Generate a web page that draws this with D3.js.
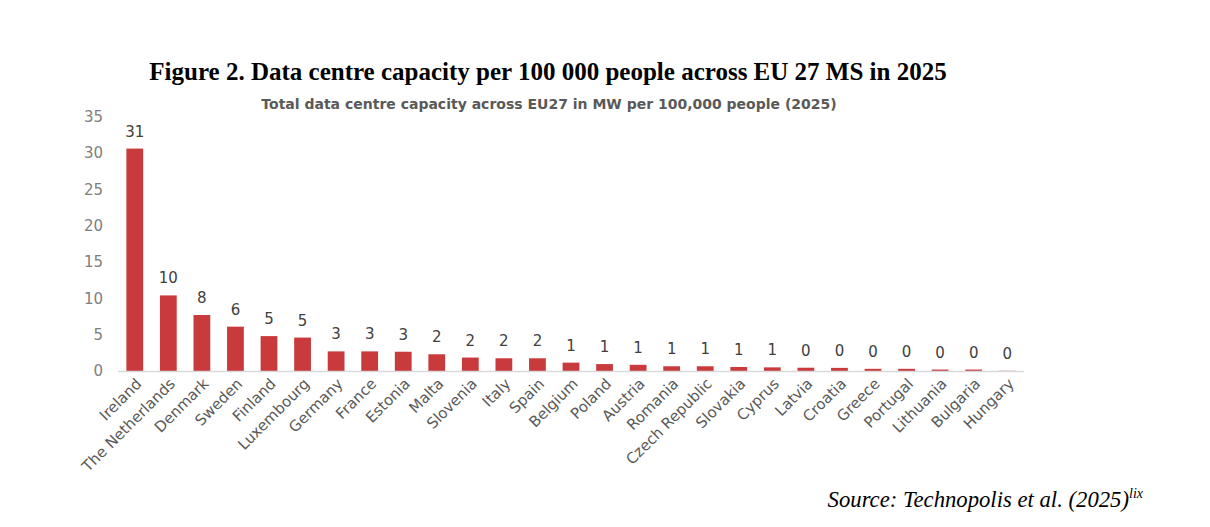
<!DOCTYPE html>
<html>
<head>
<meta charset="utf-8">
<script src="https://cdn.jsdelivr.net/npm/d3@7/dist/d3.min.js"></script>
<style>
  html, body { margin: 0; padding: 0; background: #fff; }
  svg { display: block; }
</style>
</head>
<body>
<svg id="chart" width="1210" height="527"></svg>
<script>
const countries = ["Ireland","The Netherlands","Denmark","Sweden","Finland","Luxembourg","Germany","France","Estonia","Malta","Slovenia","Italy","Spain","Belgium","Poland","Austria","Romania","Czech Republic","Slovakia","Cyprus","Latvia","Croatia","Greece","Portugal","Lithuania","Bulgaria","Hungary"];
const capacity = [30.6,10.4,7.7,6.1,4.8,4.6,2.7,2.7,2.65,2.3,1.85,1.75,1.75,1.15,0.95,0.85,0.65,0.65,0.55,0.5,0.45,0.43,0.3,0.3,0.2,0.2,0.03];
const yTicks = [0,5,10,15,20,25,30,35];

const figureTitle = "Figure 2. Data centre capacity per 100 000 people across EU 27 MS in 2025";
const chartTitle = "Total data centre capacity across EU27 in MW per 100,000 people (2025)";
const sourceText = "Source: Technopolis et al. (2025)";
const sourceSup = "lix";

const svg = d3.select("#chart");
const sans = "'DejaVu Sans', sans-serif";
const serif = "'Liberation Serif', 'Times New Roman', serif";

const x = d3.scaleBand().domain(countries).range([118, 1024]).paddingInner(0.5).paddingOuter(0.25);
const y = d3.scaleLinear().domain([0, 35]).range([371, 116.6]);

// Figure title
svg.append("text")
  .attr("x", 548).attr("y", 80)
  .attr("text-anchor", "middle")
  .attr("font-family", serif)
  .attr("font-weight", "bold")
  .attr("font-size", 25)
  .attr("fill", "#000")
  .text(figureTitle);

// Chart title
svg.append("text")
  .attr("x", 549).attr("y", 109)
  .attr("text-anchor", "middle")
  .attr("font-family", sans)
  .attr("font-weight", "bold")
  .attr("font-size", 14)
  .attr("fill", "#595959")
  .text(chartTitle);

// Y axis tick labels
svg.append("g").selectAll("text")
  .data(yTicks).join("text")
  .attr("x", 103)
  .attr("y", d => y(d))
  .attr("dy", "0.35em")
  .attr("text-anchor", "end")
  .attr("font-family", sans)
  .attr("font-size", 15)
  .attr("fill", "#808080")
  .text(d => d);

const data = countries.map((c, i) => ({ c, v: capacity[i] }));

// Bars
svg.append("g").selectAll("rect")
  .data(data).join("rect")
  .attr("x", d => x(d.c))
  .attr("y", d => y(d.v))
  .attr("width", x.bandwidth())
  .attr("height", d => y(0) - y(d.v))
  .attr("fill", "#C83A3C");

// Baseline
svg.append("line")
  .attr("x1", 118).attr("x2", 1024)
  .attr("y1", y(0) + 0.5).attr("y2", y(0) + 0.5)
  .attr("stroke", "#d9d9d9").attr("stroke-width", 1.5);

// Value labels
svg.append("g").selectAll("text")
  .data(data).join("text")
  .attr("x", d => x(d.c) + x.bandwidth() / 2)
  .attr("y", d => y(d.v) - 12)
  .attr("text-anchor", "middle")
  .attr("font-family", sans)
  .attr("font-size", 15)
  .attr("fill", "#404040")
  .text(d => Math.round(d.v));

// X labels
svg.append("g").selectAll("text")
  .data(countries).join("text")
  .attr("transform", d => `translate(${x(d) + x.bandwidth() / 2 + 4},${381}) rotate(-45)`)
  .attr("text-anchor", "end")
  .attr("dy", "0.35em")
  .attr("font-family", sans)
  .attr("font-size", 15)
  .attr("fill", "#595959")
  .text(d => d);

// Source
const src = svg.append("text")
  .attr("x", 1143).attr("y", 507)
  .attr("text-anchor", "end")
  .attr("font-family", serif)
  .attr("font-style", "italic")
  .attr("font-size", 22.7)
  .attr("fill", "#000");
src.append("tspan").text(sourceText);
src.append("tspan").attr("font-size", 14).attr("dy", -9).text(sourceSup);
</script>
</body>
</html>
